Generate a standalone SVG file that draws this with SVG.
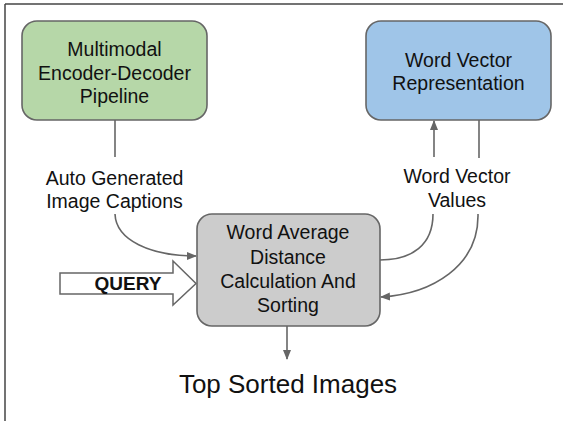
<svg xmlns="http://www.w3.org/2000/svg" width="563" height="421" viewBox="0 0 563 421">
<defs>
<marker id="ah" markerWidth="10" markerHeight="10" viewBox="0 0 10 10" refX="9" refY="5" orient="auto" markerUnits="userSpaceOnUse">
<path d="M0,1 L10,5 L0,9 Z" fill="#666"/>
</marker>
<style>
.t{font-family:"Liberation Sans",Arial,sans-serif;font-size:19.5px;fill:#111;text-anchor:middle}
.box{stroke:#666;stroke-width:1.6}
.c{fill:none;stroke:#666;stroke-width:1.6}
</style>
</defs>
<rect width="563" height="421" fill="#fff"/>
<g id="frame" stroke="#444" stroke-width="1.5" fill="none">
<line x1="5" y1="4" x2="563" y2="4"/>
<line x1="5" y1="4" x2="5" y2="421"/>
</g>
<g id="pipeline">
<rect class="box" x="22" y="21" width="185" height="99" rx="15" fill="#b6d7a8"/>
<text class="t" x="114.5" y="56">Multimodal</text>
<text class="t" x="114.5" y="80">Encoder-Decoder</text>
<text class="t" x="114.5" y="103">Pipeline</text>
</g>
<g id="wordvec">
<rect class="box" x="366" y="21" width="185" height="99" rx="15" fill="#9fc5e8"/>
<text class="t" x="458.5" y="67">Word Vector</text>
<text class="t" x="458.5" y="90">Representation</text>
</g>
<g id="calc">
<rect class="box" x="197" y="214" width="183" height="112" rx="15" fill="#cccccc"/>
<text class="t" x="288" y="239">Word Average</text>
<text class="t" x="288" y="264">Distance</text>
<text class="t" x="288" y="288">Calculation And</text>
<text class="t" x="288" y="312">Sorting</text>
</g>
<g id="query">
<path d="M60,273 L173,273 L173,261 L196,283.5 L173,305 L173,294 L60,294 Z" fill="#fff" stroke="#666" stroke-width="1.5"/>
<text x="128" y="290" style="font-family:'Liberation Sans',Arial,sans-serif;font-size:19px;font-weight:bold;fill:#111;text-anchor:middle">QUERY</text>
</g>
<g id="captions-label">
<text class="t" x="114.5" y="185">Auto Generated</text>
<text class="t" x="114.5" y="208">Image Captions</text>
</g>
<g id="values-label">
<text class="t" x="457" y="183">Word Vector</text>
<text class="t" x="457" y="207">Values</text>
</g>
<g id="result">
<text x="288" y="393" style="font-family:'Liberation Sans',Arial,sans-serif;font-size:26px;fill:#111;text-anchor:middle">Top Sorted Images</text>
</g>
<g id="connectors">
<line class="c" x1="115" y1="120" x2="115" y2="157"/>
<path class="c" d="M115,214 C116,240 150,256 196,256" marker-end="url(#ah)"/>
<path class="c" d="M434,157 L434,121" marker-end="url(#ah)"/>
<line class="c" x1="479" y1="120" x2="479" y2="158"/>
<path class="c" d="M433,214 C433,245 412,260 380,260"/>
<path class="c" d="M478,214 C479,266 432,294 381,297" marker-end="url(#ah)"/>
<path class="c" d="M287,326 L287,359" marker-end="url(#ah)"/>
</g>
</svg>
